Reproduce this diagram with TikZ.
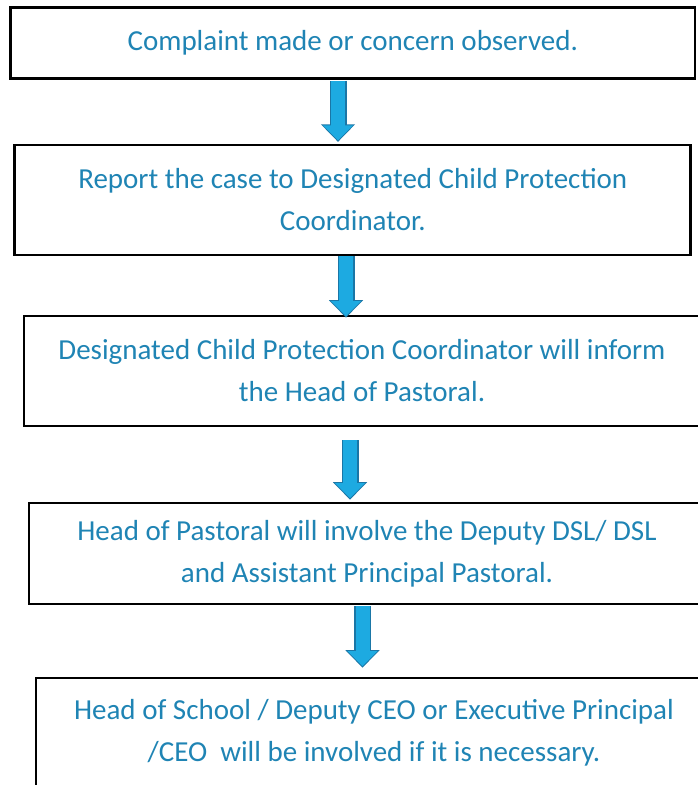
\documentclass[tikz,border=0pt]{standalone}
\usepackage{fontspec}
\setmainfont{Carlito}
\usetikzlibrary{arrows.meta, positioning}
\usepackage{xcolor}
\definecolor{textblue}{RGB}{31,132,180}
\definecolor{arrowfill}{RGB}{29,170,225}
\definecolor{arrowedge}{RGB}{26,118,166}
\tikzstyle{box} = [rectangle, 
minimum width=676pt, 
minimum height=110pt, 
text centered, 
align=center,
draw=black, 
line width=2.6pt,
text=textblue,
font=\fontsize{29}{42}\selectfont]
\tikzstyle{arrowback} = [draw=arrowedge, line width=17pt, -{Triangle[width=33pt,length=17.5pt]}]
\tikzstyle{arrowfront} = [draw=arrowfill, line width=14pt, shorten >=1.5pt, -{Triangle[width=29pt,length=15pt]}]

\begin{document}
\begin{tikzpicture}[x=1pt, y=1pt, node distance=157pt]
	\clip (0,0) rectangle (698,-785);
	
	\node (complaint) [box, minimum width=684.5pt, minimum height=71pt] at (352.75,-43) {Complaint made or concern observed.};
	\node (report) [box, below of=complaint, minimum height=109.7pt] {Report the case to Designated Child Protection\\Coordinator.};
	\node (inform) [box, below of=report, xshift=9.25pt, yshift=-14pt] {Designated Child Protection Coordinator will inform\\the Head of Pastoral.};
	\node (involve) [box, below of=inform, xshift=5pt, yshift=-25.5pt, minimum height=101pt] {Head of Pastoral will involve the Deputy DSL/ DSL\\and Assistant Principal Pastoral.};
	\node (escalate) [box, below of=involve, xshift=7pt, yshift=-22.5pt] {Head of School / Deputy CEO or Executive Principal\\/CEO\ \ will be involved if it is necessary.};
	
	% block arrows: dark edge first, light fill on top
	\draw [arrowback] ([xshift=-14.75pt, yshift=-1pt]complaint.south) -- ([xshift=-14.75pt, yshift=2pt]report.north);
	\draw [arrowfront] ([xshift=-14.75pt, yshift=-1pt]complaint.south) -- ([xshift=-14.75pt, yshift=2pt]report.north);
	\draw [arrowback] ([xshift=-6.75pt]report.south) -- ([xshift=-16pt, yshift=-3pt]inform.north);
	\draw [arrowfront] ([xshift=-6.75pt]report.south) -- ([xshift=-16pt, yshift=-3pt]inform.north);
	\draw [arrowback] ([xshift=-12pt, yshift=-13pt]inform.south) -- ([xshift=-17pt, yshift=2pt]involve.north);
	\draw [arrowfront] ([xshift=-12pt, yshift=-13pt]inform.south) -- ([xshift=-17pt, yshift=2pt]involve.north);
	\draw [arrowback] ([xshift=-4.5pt, yshift=-1pt]involve.south) -- ([xshift=-11.5pt, yshift=9pt]escalate.north);
	\draw [arrowfront] ([xshift=-4.5pt, yshift=-1pt]involve.south) -- ([xshift=-11.5pt, yshift=9pt]escalate.north);
	
\end{tikzpicture}
\end{document}
